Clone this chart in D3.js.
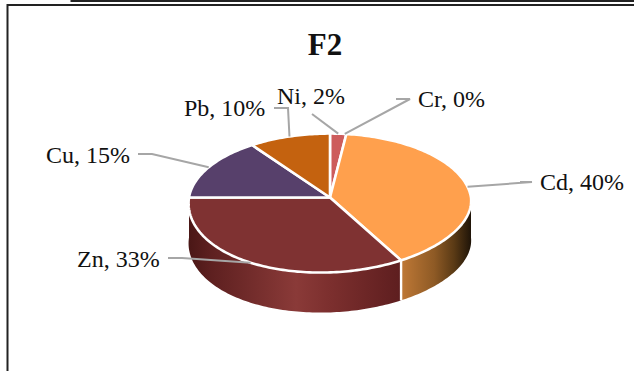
<!DOCTYPE html>
<html><head><meta charset="utf-8">
<script src="https://cdn.jsdelivr.net/npm/d3@7"></script>
<style>html,body{margin:0;padding:0;background:#fff}svg{display:block}</style>
</head><body><svg id="chart" width="634" height="371"></svg>
<script>
// Metal fractions for the F2 sample, in percent, clockwise from twelve o'clock
const metals = ["Cr", "Ni", "Cd", "Zn", "Cu", "Pb"];
const shares = [0, 2, 40, 33, 15, 10];
const topColors = ["#4f81bd", "#cd5c5c", "#ffa04d", "#7f3232", "#57406b", "#c4620f"];
const chartTitle = "F2";

// Scene geometry of the tilted disc
const cx = 330, cy = 197.5, rx = 141, ry = 69, tilt = 0.079, depth = 40;

const svg = d3.select("#chart");
const defs = svg.append("defs");

// Perspective projection of a disc angle (radians clockwise from the top),
// with a slight skew on the near half of the rim
function project(a, r = 1) {
  const X = r * Math.sin(a), Y = r * Math.cos(a), s = 1 / (1 + tilt * Y);
  const nearY = Math.max(0, -Y);
  const skewY = -5 * X * nearY;
  const skewX = X > 0 ? -4.5 * X * nearY : 0;
  return [cx + rx * X * s + skewX, cy - ry * Y * s + skewY];
}
function rimPoints(a0, a1) {
  const n = Math.max(2, Math.ceil(Math.abs(a1 - a0) / 0.02));
  return d3.range(n + 1).map(i => project(a0 + (a1 - a0) * i / n));
}

const arcs = d3.pie().sort(null).value(d => d)(shares);
const line = d3.line();

function sideGradient(id, stops) {
  const g = defs.append("linearGradient").attr("id", id)
    .attr("gradientUnits", "userSpaceOnUse")
    .attr("x1", cx - rx).attr("x2", cx + rx).attr("y1", 0).attr("y2", 0);
  stops.forEach(([o, c]) => g.append("stop").attr("offset", o).attr("stop-color", c));
}
sideGradient("wallZn", [[0, "#4a1716"], [0.08, "#5e2020"], [0.38, "#8a3a38"], [0.5, "#7c2f2e"], [0.75, "#5e1e1f"], [1, "#5e1e1f"]]);
sideGradient("wallCd", [[0, "#c9803a"], [0.74, "#c47c38"], [0.87, "#8e5a25"], [0.94, "#5a3a15"], [1, "#1f1408"]]);

// Outer wall: only the front half of the rim (angles 90deg to 270deg) is visible
function wall(a0, a1, fill) {
  const lo = Math.max(a0, Math.PI / 2), hi = Math.min(a1, 3 * Math.PI / 2);
  if (hi <= lo) return;
  const up = rimPoints(lo, hi);
  const down = up.map(([x, y]) => [x, y + depth]).reverse();
  svg.append("path").attr("d", line(up.concat(down)) + "Z").attr("fill", fill);
}
wall(arcs[2].startAngle, arcs[2].endAngle, "url(#wallCd)");
wall(arcs[3].startAngle, arcs[3].endAngle, "url(#wallZn)");

// White seam on the wall between the Cd and Zn slices
const seam = project(arcs[2].endAngle);
svg.append("line").attr("x1", seam[0]).attr("y1", seam[1])
  .attr("x2", seam[0]).attr("y2", seam[1] + depth)
  .attr("stroke", "#fff").attr("stroke-width", 2.4);

// Top face slices
arcs.forEach((d, i) => {
  if (d.value === 0) return;
  const pts = [[cx, cy]].concat(rimPoints(d.startAngle, d.endAngle));
  svg.append("path").attr("d", line(pts) + "Z")
    .attr("fill", topColors[i]).attr("stroke", "#fff")
    .attr("stroke-width", 2.6).attr("stroke-linejoin", "round");
});

// Leader lines: start on the rim and bend towards the label
const labelLayout = {
  Cr: {x: 418, y: 107, via: [[396, 99], [410, 99]], at: 0.018},
  Ni: {x: 277, y: 104, via: [[312, 114]], at: 0.01},
  Cd: {x: 540, y: 190, via: [[520, 182], [532, 182]], at: 0.225},
  Zn: {x: 77, y: 267, via: [[168, 258], [182, 258]], at: 0.588},
  Cu: {x: 46, y: 163, via: [[138, 154], [152, 154]], at: 0.825},
  Pb: {x: 184, y: 116, via: [[274, 108], [288, 108]], at: 0.95}
};
arcs.forEach((d, i) => {
  const name = metals[i], lay = labelLayout[name];
  const anchor = project(2 * Math.PI * lay.at);
  svg.append("path").attr("d", line([anchor].concat(lay.via.slice().reverse())))
    .attr("fill", "none").attr("stroke", "#a6a6a6").attr("stroke-width", 2);
  svg.append("text").attr("x", lay.x).attr("y", lay.y)
    .attr("font-family", "'Liberation Serif', serif").attr("font-size", 24)
    .attr("fill", "#111").text(`${name}, ${shares[i]}%`);
});

svg.append("text").attr("x", 325).attr("y", 55).attr("text-anchor", "middle")
  .attr("font-family", "'Liberation Serif', serif").attr("font-weight", "bold")
  .attr("font-size", 31).attr("fill", "#111").text(chartTitle);

// Chart frame
svg.append("path").attr("d", "M7.5 371V5H634").attr("fill", "none").attr("stroke", "#222").attr("stroke-width", 2);
svg.append("path").attr("d", "M71.5 0V1H634").attr("fill", "none").attr("stroke", "#222").attr("stroke-width", 2);
</script></body></html>
